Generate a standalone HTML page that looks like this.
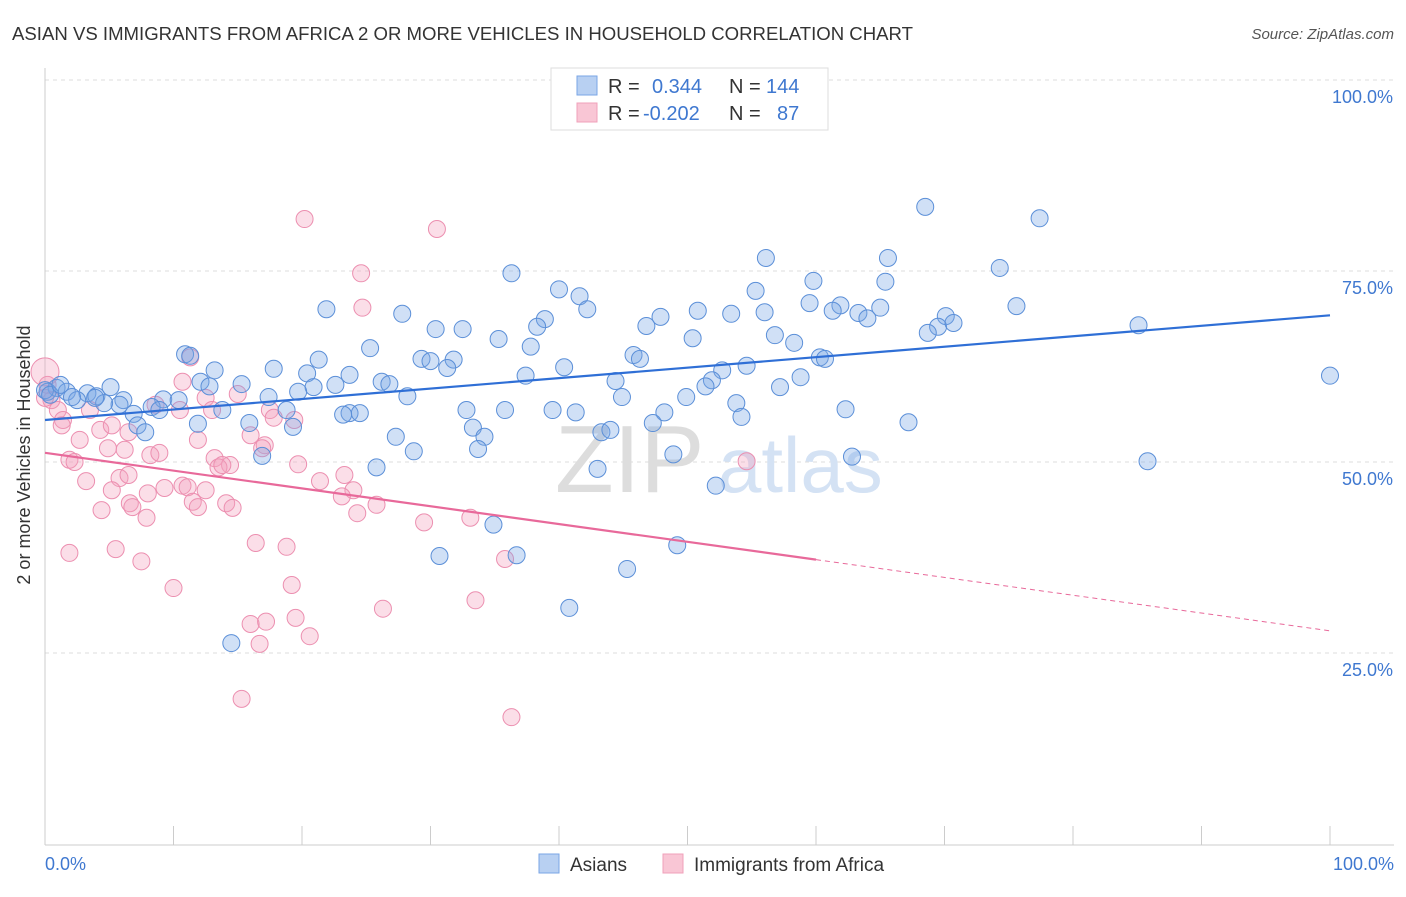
<!DOCTYPE html>
<html><head><meta charset="utf-8"><style>
body{margin:0;background:#fff;font-family:"Liberation Sans",sans-serif;}
svg text{font-family:"Liberation Sans",sans-serif;}
</style></head><body>
<svg id="chart" width="1406" height="892">
<text x="12" y="40" font-size="18" textLength="901" lengthAdjust="spacingAndGlyphs" fill="#333">ASIAN VS IMMIGRANTS FROM AFRICA 2 OR MORE VEHICLES IN HOUSEHOLD CORRELATION CHART</text>
<text x="1394" y="39" font-size="15" fill="#555" font-style="italic" text-anchor="end">Source: ZipAtlas.com</text>
<g id="grid"></g>
<text x="555" y="492" font-size="96" fill="#ddd" font-family="Liberation Serif">ZIP</text>
<text x="718" y="492" font-size="78" fill="#d4e2f4">atlas</text>
<g id="pts"></g>
<g id="trend"></g>
<text x="30" y="455" font-size="18" fill="#333" text-anchor="middle" transform="rotate(-90 30 455)">2 or more Vehicles in Household</text>
<g>
<rect x="551" y="68" width="277" height="62" fill="#fff" stroke="#ddd"/>
<rect x="577" y="76" width="20" height="19" fill="#b8d0f2" stroke="#7aa6e6"/>
<rect x="577" y="103" width="20" height="19" fill="#f9c6d5" stroke="#f0a0ba"/>
<text x="608" y="93" font-size="20" fill="#333">R =</text>
<text x="652" y="93" font-size="20" fill="#3f78d0">0.344</text>
<text x="729" y="93" font-size="20" fill="#333">N =</text>
<text x="766" y="93" font-size="20" fill="#3f78d0">144</text>
<text x="608" y="120" font-size="20" fill="#333">R =</text>
<text x="643" y="120" font-size="20" fill="#3f78d0">-0.202</text>
<text x="729" y="120" font-size="20" fill="#333">N =</text>
<text x="777" y="120" font-size="20" fill="#3f78d0">87</text>
</g>
<g>
<rect x="539" y="854" width="20" height="19" fill="#b8d0f2" stroke="#7aa6e6"/>
<text x="570" y="871" font-size="19" fill="#333">Asians</text>
<rect x="663" y="854" width="20" height="19" fill="#f9c6d5" stroke="#f0a0ba"/>
<text x="694" y="871" font-size="19" fill="#333">Immigrants from Africa</text>
</g>
<text x="45" y="870" font-size="18" fill="#3f78d0">0.0%</text>
<text x="1394" y="870" font-size="18" fill="#3f78d0" text-anchor="end">100.0%</text>
</svg>
<script>
const yTicks=[25,50,75,100];
const yTickLabels=["25.0%","50.0%","75.0%","100.0%"];
const asianX=[68.5,77.4,56.1,65.6,74.3,36.3,59.8,65.4,40.0,41.6,55.3,21.9,42.2,50.8,59.5,61.9,61.3,65.0,63.3,64.0,75.6,27.8,70.1,47.9,38.9,53.4,30.4,32.5,38.3,46.8,56.0,69.5,70.7,68.7,85.1,35.3,50.4,56.8,37.8,58.3,25.3,10.9,29.3,30.0,45.8,46.3,31.8,31.3,21.3,40.4,54.6,60.3,60.7,17.8,20.4,23.7,37.4,44.4,52.7,51.9,51.4,57.2,58.8,100.0,13.2,12.1,15.3,26.2,26.8,12.8,20.9,19.7,17.4,28.2,44.9,49.9,5.1,0.9,1.7,0.2,3.3,4.0,6.1,2.5,9.2,10.4,18.8,22.6,13.8,5.8,4.6,6.9,8.3,8.9,32.8,35.8,39.5,41.3,48.2,53.8,62.3,54.2,23.7,24.5,23.2,15.9,11.9,7.2,7.8,19.3,47.3,67.2,33.3,34.2,43.3,44.0,27.3,33.7,28.7,16.9,48.9,62.8,25.8,43.0,85.8,52.2,34.9,36.7,30.7,49.2,45.3,40.8,14.5,0,0.4,1.2,2.1,3.9,11.3];
const asianY=[83.4,81.9,76.7,76.7,75.4,74.7,73.7,73.6,72.6,71.7,72.4,70.0,70.0,69.8,70.8,70.5,69.8,70.2,69.5,68.8,70.4,69.4,69.1,69.0,68.7,69.4,67.4,67.4,67.7,67.8,69.6,67.7,68.2,66.9,67.9,66.1,66.2,66.6,65.1,65.6,64.9,64.1,63.5,63.2,64.0,63.5,63.4,62.3,63.4,62.4,62.6,63.7,63.5,62.2,61.6,61.4,61.3,60.6,62.0,60.7,59.9,59.8,61.1,61.3,62.0,60.5,60.2,60.5,60.2,59.9,59.8,59.2,58.5,58.6,58.5,58.5,59.8,59.7,59.2,59.2,59.0,58.6,58.1,58.1,58.2,58.1,56.8,60.1,56.8,57.5,57.7,56.3,57.2,56.8,56.8,56.8,56.8,56.5,56.5,57.7,56.9,55.9,56.4,56.4,56.2,55.1,55.0,54.8,53.9,54.6,55.1,55.2,54.5,53.3,53.9,54.2,53.3,51.7,51.4,50.8,51.0,50.7,49.3,49.1,50.1,46.9,41.8,37.8,37.7,39.1,36.0,30.9,26.3,59.4,58.8,60.1,58.5,58.4,63.9];
const africaX=[20.2,30.5,24.6,24.7,11.3,10.7,15.0,12.5,0.2,0.5,1.0,1.4,1.3,3.5,4.3,5.2,6.5,8.6,10.5,13.0,17.5,19.4,16.0,17.1,17.8,2.7,4.9,6.2,8.2,8.9,11.9,13.2,14.4,13.5,13.8,1.9,2.3,16.9,19.7,23.3,24.0,25.8,3.2,5.8,6.5,5.2,8.0,9.3,10.7,11.1,12.5,11.5,14.1,14.6,4.4,6.6,6.8,7.9,11.9,21.4,23.1,24.3,29.5,33.1,35.8,54.6,1.9,5.5,7.5,16.4,18.8,10.0,19.2,26.3,33.5,17.2,16.0,19.5,20.6,16.7,15.3,36.3,0,0];
const africaY=[81.8,80.5,74.7,70.2,63.7,60.5,58.9,58.4,60.1,58.1,56.8,55.5,54.8,56.8,54.2,54.8,53.9,57.5,56.8,56.8,56.8,55.5,53.5,52.2,55.8,52.9,51.8,51.6,50.9,51.2,52.9,50.5,49.6,49.3,49.6,50.3,50.0,51.8,49.7,48.3,46.3,44.4,47.5,47.9,48.3,46.3,45.9,46.6,46.9,46.7,46.3,44.8,44.6,44.0,43.7,44.6,44.1,42.7,44.1,47.5,45.5,43.3,42.1,42.7,37.3,50.1,38.1,38.6,37.0,39.4,38.9,33.5,33.9,30.8,31.9,29.1,28.8,29.6,27.2,26.2,19.0,16.6,61.8,58.4];
const asianTrend=[55.5,69.2];
const africaTrend=[51.2,27.9];
const ns="http://www.w3.org/2000/svg";
const X0=45,X1=1330,Y0=844,Y100=80;
const sx=v=>X0+(X1-X0)*v/100;
const sy=v=>Y0-(Y0-Y100)*v/100;
function mk(t,a,p){const e=document.createElementNS(ns,t);for(const k in a)e.setAttribute(k,a[k]);p.appendChild(e);return e;}
const grid=document.getElementById('grid');
yTicks.forEach((t,i)=>{
  const l=mk('line',{x1:X0,x2:1394,y1:sy(t),y2:sy(t),stroke:'#ddd','stroke-dasharray':'4,4'},grid);
  
  
  const tx=mk('text',{x:1393,y:sy(t)+23,'font-size':18,fill:'#3f78d0','text-anchor':'end'},grid);
  tx.textContent=yTickLabels[i];
  
  
});
const ax=mk('line',{x1:X0,x2:X0,y1:68,y2:Y0+1,stroke:'#ccc'},grid);


const bx=mk('line',{x1:X0,x2:1394,y1:Y0+1,y2:Y0+1,stroke:'#ccc'},grid);


for(let i=0;i<=10;i++){
  const tk=mk('line',{x1:sx(i*10),x2:sx(i*10),y1:Y0-18,y2:Y0+1,stroke:'#ccc'},grid);
  
  
}
const pts=document.getElementById('pts');
africaX.forEach((x,i)=>{
  const c=mk('circle',{cx:sx(x),cy:sy(africaY[i]),r:(i===africaX.length-2)?14:8.5,fill:'rgba(244,160,188,0.35)',stroke:'#ec8fb0','stroke-width':1},pts);
  
  
});
asianX.forEach((x,i)=>{
  const c=mk('circle',{cx:sx(x),cy:sy(asianY[i]),r:8.5,fill:'rgba(120,165,230,0.35)',stroke:'#5b8fd8','stroke-width':1},pts);
  
  
});
const tr=document.getElementById('trend');
const bl=mk('line',{x1:sx(0),y1:sy(asianTrend[0]),x2:sx(100),y2:sy(asianTrend[1]),stroke:'#2f6fd6','stroke-width':2.2},tr);


const ay=t=>africaTrend[0]+(africaTrend[1]-africaTrend[0])*t/100;
const pl=mk('line',{x1:sx(0),y1:sy(ay(0)),x2:sx(60),y2:sy(ay(60)),stroke:'#e8699a','stroke-width':2.2},tr);


const pd=mk('line',{x1:sx(60),y1:sy(ay(60)),x2:sx(100),y2:sy(ay(100)),stroke:'#e8699a','stroke-width':1,'stroke-dasharray':'5,4'},tr);


</script>
</body></html>
